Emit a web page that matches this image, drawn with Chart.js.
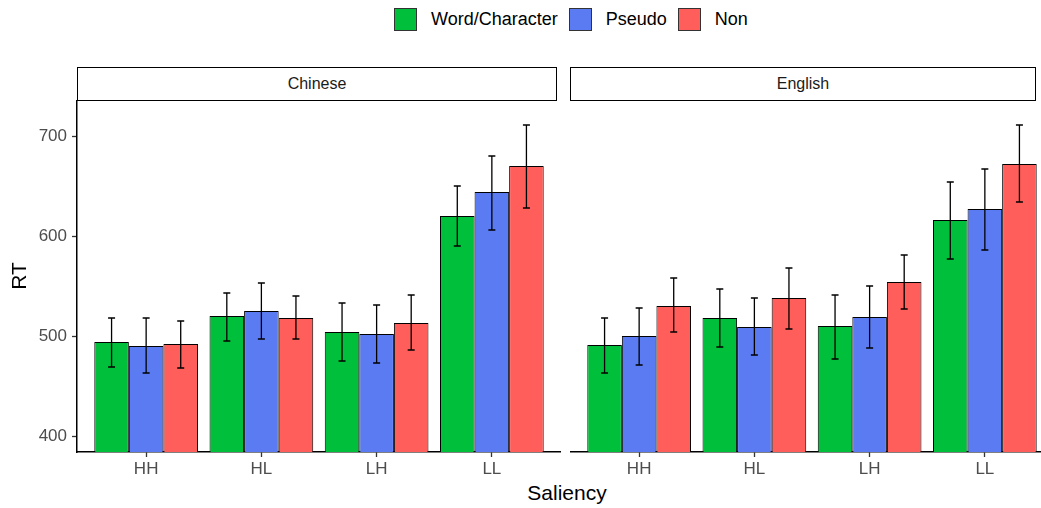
<!DOCTYPE html>
<html>
<head>
<meta charset="utf-8">
<script src="https://cdn.jsdelivr.net/npm/chart.js@4/dist/chart.umd.min.js"></script>
<style>
    body { margin: 0; width: 1041px; height: 508px; overflow: hidden; background: #fff; position: relative;
           font-family: "Liberation Sans", Arial, sans-serif; }
    .legend { position: absolute; top: 8px; left: 394px; height: 23px; display: flex; align-items: center; }
    .legend .box { width: 23px; height: 23px; border: 1px solid #333; box-sizing: border-box; }
    .legend span { font-size: 18px; color: #000; margin: 0 11px 0 14px; }
    .strip { position: absolute; top: 67px; height: 34px; border: 1.5px solid #000; box-sizing: border-box;
             text-align: center; line-height: 31px; font-size: 16px; color: #1a1a1a; background: #fff; }
    #wrap-chinese { position: absolute; left: 0; top: 100px; }
    #wrap-english { position: absolute; left: 570px; top: 100px; }
    #x-title { position: absolute; left: 467px; width: 200px; top: 481px; text-align: center; font-size: 21px; color: #000; }
</style>
</head>
<body>
<div class="legend">
    <div class="box" style="background:#00BF3A"></div><span>Word/Character</span>
    <div class="box" style="background:#5A7BF2"></div><span>Pseudo</span>
    <div class="box" style="background:#FF5E5A"></div><span>Non</span>
</div>
<div class="strip" style="left:77px;width:480px">Chinese</div>
<div class="strip" style="left:570px;width:466px">English</div>
<div id="wrap-chinese"><canvas id="grafico-chinese" width="561" height="380"></canvas></div>
<div id="wrap-english"><canvas id="grafico-english" width="484" height="380"></canvas></div>
<div id="x-title">Saliency</div>

<script>
const categories = ["HH", "HL", "LH", "LL"];
const series = ["Word/Character", "Pseudo", "Non"];
const colors = ['#00BF3A', '#5A7BF2', '#FF5E5A'];
const yTicks = [400, 500, 600, 700];

// Chinese panel
const chineseWord = [494, 520, 504, 620];
const chinesePseudo = [490, 525, 502, 644];
const chineseNon = [492, 518, 513, 670];
const chineseWordCI = [[469, 518], [495, 543], [475, 533], [590, 650]];
const chinesePseudoCI = [[463, 518], [497, 553], [473, 531], [606, 680]];
const chineseNonCI = [[468, 515], [497, 540], [486, 541], [628, 711]];

// English panel
const englishWord = [491, 518, 510, 616];
const englishPseudo = [500, 509, 519, 627];
const englishNon = [530, 538, 554, 672];
const englishWordCI = [[463, 518], [489, 547], [477, 541], [577, 654]];
const englishPseudoCI = [[471, 528], [481, 538], [488, 550], [586, 667]];
const englishNonCI = [[504, 558], [507, 568], [527, 581], [634, 711]];

Chart.defaults.font.family = '"Liberation Sans", Arial, sans-serif';

const errorBars = {
    id: 'errorBars',
    afterDatasetsDraw(chart) {
        const ctx = chart.ctx;
        const y = chart.scales.y;
        ctx.save();
        ctx.strokeStyle = '#000';
        ctx.lineWidth = 1.3;
        chart.data.datasets.forEach((ds, i) => {
            chart.getDatasetMeta(i).data.forEach((bar, j) => {
                const top = y.getPixelForValue(ds.ci[j][1]);
                const bot = y.getPixelForValue(ds.ci[j][0]);
                ctx.beginPath();
                ctx.moveTo(bar.x, top); ctx.lineTo(bar.x, bot);
                ctx.moveTo(bar.x - 3.5, top); ctx.lineTo(bar.x + 3.5, top);
                ctx.moveTo(bar.x - 3.5, bot); ctx.lineTo(bar.x + 3.5, bot);
                ctx.stroke();
            });
        });
        ctx.restore();
    }
};

function montaDatasets(values, cis) {
    return values.map((v, s) => ({
        label: series[s],
        data: v.map((val, i) => ({ x: i + 1, y: val })),
        ci: cis[s],
        backgroundColor: colors[s],
        borderColor: '#000',
        borderWidth: 1,
        borderSkipped: false,
        barPercentage: 1,
        categoryPercentage: 0.9
    }));
}

function montaConfig(values, cis, showY) {
    return {
        type: 'bar',
        data: { datasets: montaDatasets(values, cis) },
        options: {
            responsive: false,
            animation: false,
            devicePixelRatio: 1,
            layout: { padding: 0 },
            plugins: {
                legend: { display: false },
                tooltip: { enabled: false }
            },
            scales: {
                x: {
                    type: 'linear',
                    min: 0.4,
                    max: 4.6,
                    offset: false,
                    afterBuildTicks: s => { s.ticks = categories.map((c, i) => ({ value: i + 1 })); },
                    afterFit: s => { s.height = 28; s.paddingLeft = 0; s.paddingRight = 0; },
                    ticks: {
                        callback: v => categories[v - 1],
                        color: '#4d4d4d',
                        font: { size: 17 },
                        padding: 2,
                        maxRotation: 0,
                        autoSkip: false
                    },
                    grid: { offset: false, drawOnChartArea: false, tickLength: 5, color: '#333', tickWidth: 1.3 },
                    border: { color: '#000', width: 1.5 }
                },
                y: {
                    display: showY,
                    min: 384,
                    max: 736,
                    afterBuildTicks: s => { s.ticks = yTicks.map(v => ({ value: v })); },
                    afterFit: s => { s.width = showY ? 77 : 0; s.paddingTop = 0; s.paddingBottom = 0; },
                    ticks: { color: '#4d4d4d', font: { size: 17 }, padding: 5 },
                    grid: { drawOnChartArea: false, tickLength: 5, color: '#333', tickWidth: 1.3 },
                    border: { color: '#000', width: 1.5 },
                    title: { display: true, text: 'RT', color: '#000', font: { size: 21 }, padding: { top: 8, bottom: 0 } }
                }
            }
        },
        plugins: [errorBars]
    };
}

document.addEventListener("DOMContentLoaded", () => {
    new Chart(document.getElementById("grafico-chinese"),
        montaConfig([chineseWord, chinesePseudo, chineseNon], [chineseWordCI, chinesePseudoCI, chineseNonCI], true));
    new Chart(document.getElementById("grafico-english"),
        montaConfig([englishWord, englishPseudo, englishNon], [englishWordCI, englishPseudoCI, englishNonCI], false));
});
</script>
</body>
</html>
